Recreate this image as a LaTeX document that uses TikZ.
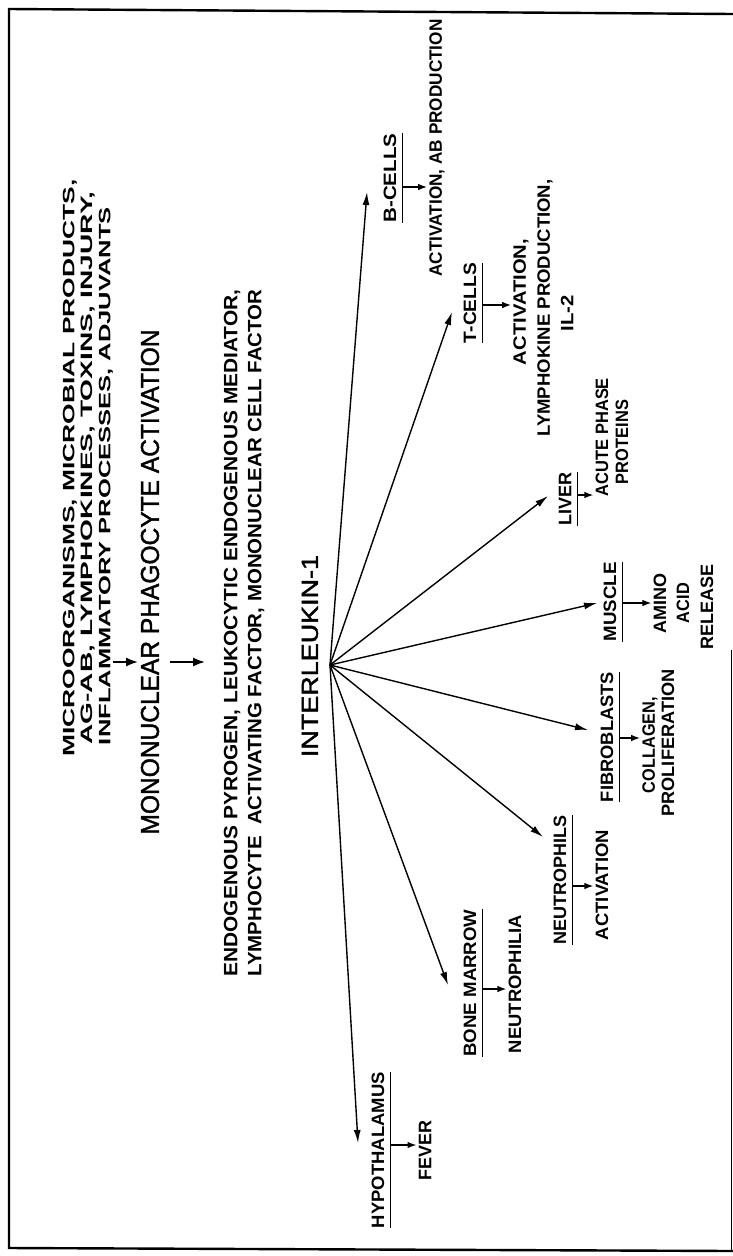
\documentclass[tikz,border=0pt]{standalone}
\usepackage{fontspec}
\setmainfont{Liberation Sans}
\newfontfamily\medfont[FakeBold=1.6]{Liberation Sans}
\usetikzlibrary{arrows.meta,calc}
\newcommand{\fitxt}[3]{\resizebox{#1pt}{#2pt}{#3}}
\begin{document}
\begin{tikzpicture}[x=1pt,y=-1pt,
  lbl/.style={rotate=90,inner sep=0pt,font=\bfseries},
  bigtxt/.style={rotate=90,inner sep=0pt,font=\medfont},
  conn/.style={line width=1.4pt,-{Latex[length=13pt,width=7pt]}},
  small/.style={line width=1.4pt,-{Latex[length=9pt,width=6.5pt]},shorten >=2pt},
  flow/.style={line width=1.7pt,-{Latex[length=12pt,width=9pt]}},
  uline/.style={line width=1.5pt},
  frame/.style={line width=2.4pt}]
\useasboundingbox (0,0) rectangle (733,1256);
% frame
\draw[frame] (733,14) -- (9,9) -- (9,1248) -- (733,1251);
\draw[line width=1pt] (731,650) -- (731,1250);

% input block
\node[lbl] (t1) at (70,468) {\fitxt{577}{11.5}{MICROORGANISMS, MICROBIAL PRODUCTS,}};
\node[lbl] (t2) at (88,468) {\fitxt{553}{11.5}{AG-AB, LYMPHOKINES, TOXINS, INJURY,}};
\node[lbl] (t3) at (106,476) {\fitxt{538}{11.5}{INFLAMMATORY PROCESSES, ADJUVANTS}};
\node[bigtxt] (mono) at (150,582) {\fitxt{505}{18}{MONONUCLEAR PHAGOCYTE ACTIVATION}};
\node[lbl] (e1) at (232,633) {\fitxt{687}{13.5}{ENDOGENOUS PYROGEN, LEUKOCYTIC ENDOGENOUS MEDIATOR,}};
\node[lbl] (e2) at (256,633) {\fitxt{687}{13.5}{LYMPHOCYTE\ \ ACTIVATING FACTOR, MONONUCLEAR CELL FACTOR}};
\node[bigtxt] (il) at (310,656) {\fitxt{202}{16}{INTERLEUKIN-1}};
\coordinate (a1s) at (113,662);
\coordinate (a1e) at (138,662);
\coordinate (a2s) at (170,662);
\coordinate (a2e) at (205,662);
\draw[flow] (a1s) -- (a1e);
\draw[flow] (a2s) -- (a2e);

% hub
\coordinate (hub) at (330,665);

% targets
\node[lbl] (hyp) at (378,1150) {\fitxt{156}{12.5}{HYPOTHALAMUS}};
\node[lbl] (fever) at (425,1150) {\fitxt{60}{12.5}{FEVER}};
\node[lbl] (bone) at (470,983) {\fitxt{147}{12.5}{BONE MARROW}};
\node[lbl] (nphil) at (515,984) {\fitxt{138}{12.5}{NEUTROPHILIA}};
\node[lbl] (neut) at (560,880) {\fitxt{129}{12.5}{NEUTROPHILS}};
\node[lbl] (act1) at (602,885) {\fitxt{110}{12.5}{ACTIVATION}};
\node[lbl] (fib) at (607,737) {\fitxt{130}{12.5}{FIBROBLASTS}};
\node[lbl] (coll) at (650,745) {\fitxt{96}{12.5}{COLLAGEN,}};
\node[lbl] (prol) at (668,743) {\fitxt{147}{12.5}{PROLIFERATION}};
\node[lbl] (mus) at (610,602) {\fitxt{79}{12.5}{MUSCLE}};
\node[lbl] (amino) at (660,603) {\fitxt{60}{12.5}{AMINO}};
\node[lbl] (acid) at (683,603) {\fitxt{40}{12.5}{ACID}};
\node[lbl] (rel) at (707,607) {\fitxt{85}{12.5}{RELEASE}};
\node[lbl] (liv) at (565,499) {\fitxt{53}{12.5}{LIVER}};
\node[lbl] (acute) at (602,437) {\fitxt{118}{12.5}{ACUTE PHASE}};
\node[lbl] (prot) at (622,442) {\fitxt{84}{12.5}{PROTEINS}};
\node[lbl] (tcell) at (470,303) {\fitxt{80}{12.5}{T-CELLS}};
\node[lbl] (act2) at (521,302) {\fitxt{126}{12.5}{ACTIVATION,}};
\node[lbl] (lymph) at (545,308) {\fitxt{257}{12.5}{LYMPHOKINE PRODUCTION,}};
\node[lbl] (il2) at (567,313) {\fitxt{36}{12.5}{IL-2}};
\node[lbl] (bcell) at (390,178) {\fitxt{89}{12.5}{B-CELLS}};
\node[lbl] (act3) at (437,148) {\fitxt{257}{12.5}{ACTIVATION, AB PRODUCTION}};

% arrow tips
\coordinate (tipH) at (358,1143);
\coordinate (tipBM) at (448,985);
\coordinate (tipN) at (543,837);
\coordinate (tipF) at (588,730);
\coordinate (tipM) at (597,603);
\coordinate (tipL) at (548,496);
\coordinate (tipT) at (452,312);
\coordinate (tipB) at (367,192);
\foreach \t in {tipH,tipBM,tipN,tipF,tipM,tipL,tipT,tipB}
  \draw[conn] (hub) -- (\t);

% underlines and small arrows
\foreach \n/\y/\e in {hyp/1145/fever, bone/989/nphil, neut/886/act1, fib/738/coll, mus/603/amino, liv/495/acute, tcell/305/act2, bcell/187/act3}{
  \draw[uline] ([xshift=6pt]\n.south west) -- ([xshift=6pt]\n.south east);
  \coordinate (s\n) at ($(\n.south)+(6,0)$);
  \coordinate (u\n) at (s\n |- 0,\y);
  \draw[small] (u\n) -- (u\n -| \e.north);
}
\end{tikzpicture}
\end{document}
